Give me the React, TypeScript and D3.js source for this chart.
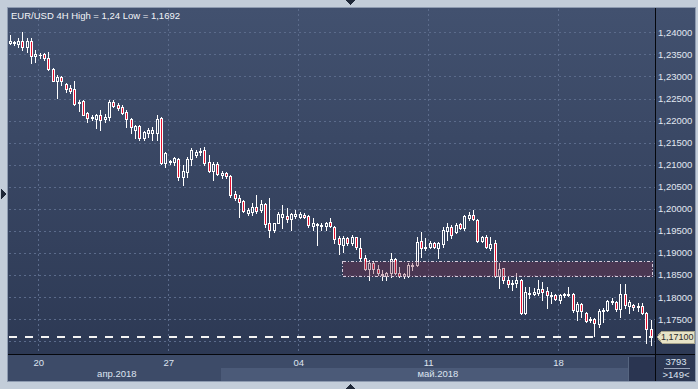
import * as d3 from "d3";
import React from "react";

// EUR/USD 4H candles (oldest first)
const opens = [
  1.2376, 1.2376, 1.2374, 1.238, 1.2367, 1.238, 1.2346, 1.2349, 1.2351, 1.2342,
  1.2317, 1.229, 1.2299, 1.2283, 1.2274, 1.2272, 1.224, 1.2244, 1.2217, 1.2206,
  1.2204, 1.2213, 1.2204, 1.2208, 1.2242, 1.2235, 1.2231, 1.222, 1.2204, 1.2179,
  1.2188, 1.2161, 1.2172, 1.2172, 1.2172, 1.2206, 1.2104, 1.2106, 1.2106, 1.2113,
  1.2072, 1.2084, 1.2113, 1.2122, 1.2129, 1.2133, 1.2106, 1.2086, 1.2102, 1.2077,
  1.2081, 1.2075, 1.2034, 1.2025, 1.2018, 1.1991, 1.1993, 1.2004, 1.1998, 1.2011,
  1.1968, 1.1952, 1.1968, 1.1982, 1.1984, 1.1977, 1.1984, 1.1982, 1.1986, 1.1984,
  1.1961, 1.1964, 1.1961, 1.1961, 1.197, 1.1959, 1.1934, 1.1918, 1.1934, 1.1923,
  1.1936, 1.1911, 1.1889, 1.1864, 1.1878, 1.1864, 1.1853, 1.1848, 1.1855, 1.1887,
  1.1855, 1.1848, 1.1848, 1.1871, 1.1873, 1.1927, 1.1911, 1.1914, 1.1923, 1.1911,
  1.1921, 1.195, 1.1959, 1.1948, 1.1966, 1.1957, 1.1979, 1.1986, 1.1975, 1.1927,
  1.1936, 1.1911, 1.1923, 1.1848, 1.1866, 1.1839, 1.183, 1.1832, 1.1839, 1.1764,
  1.181, 1.1807, 1.181, 1.1819, 1.1814, 1.1803, 1.1805, 1.1794, 1.1805, 1.1805,
  1.1807, 1.1769, 1.1785, 1.1764, 1.1748, 1.1751, 1.1739, 1.1769, 1.1771, 1.1789,
  1.1789, 1.1773, 1.1807, 1.178, 1.1782, 1.1778, 1.178, 1.1764, 1.1728,
];
const highs = [
  1.2394, 1.238, 1.2387, 1.24, 1.2387, 1.2387, 1.236, 1.2353, 1.2353, 1.2355,
  1.2319, 1.2303, 1.2301, 1.2285, 1.2281, 1.229, 1.2247, 1.2247, 1.222, 1.2213,
  1.2215, 1.2224, 1.2215, 1.2247, 1.2247, 1.224, 1.2235, 1.2224, 1.2206, 1.219,
  1.219, 1.2176, 1.2183, 1.2186, 1.2213, 1.2208, 1.2129, 1.2111, 1.2118, 1.2115,
  1.2099, 1.2118, 1.2138, 1.2133, 1.2138, 1.214, 1.2122, 1.2106, 1.2106, 1.2086,
  1.2084, 1.2077, 1.2041, 1.2032, 1.202, 1.2002, 1.2013, 1.2032, 1.202, 1.2013,
  1.2025, 1.1968, 1.1993, 1.2009, 1.2002, 1.1991, 1.1998, 1.1993, 1.1991, 1.1986,
  1.1979, 1.1968, 1.1968, 1.197, 1.1979, 1.1961, 1.1939, 1.1939, 1.1936, 1.1941,
  1.1937, 1.1934, 1.1896, 1.1884, 1.1882, 1.1873, 1.1862, 1.1857, 1.19, 1.1889,
  1.1868, 1.1855, 1.1878, 1.1878, 1.1936, 1.1948, 1.1934, 1.1927, 1.1925, 1.1925,
  1.1959, 1.1968, 1.1964, 1.1968, 1.1968, 1.1986, 1.1993, 1.1998, 1.1977, 1.1939,
  1.1941, 1.1936, 1.193, 1.1878, 1.1867, 1.1846, 1.1839, 1.1855, 1.1841, 1.1823,
  1.1823, 1.1821, 1.1839, 1.1835, 1.1823, 1.1812, 1.1807, 1.1807, 1.181, 1.1823,
  1.181, 1.1789, 1.1787, 1.1767, 1.1755, 1.1753, 1.1773, 1.1776, 1.1794, 1.1798,
  1.1791, 1.183, 1.183, 1.1794, 1.1785, 1.1787, 1.1787, 1.1767, 1.1748,
];
const lows = [
  1.2374, 1.2371, 1.2367, 1.236, 1.2355, 1.233, 1.2333, 1.2342, 1.2337, 1.2315,
  1.2289, 1.2251, 1.2281, 1.2265, 1.2263, 1.2235, 1.2222, 1.2212, 1.2197, 1.2201,
  1.2183, 1.2179, 1.2197, 1.2201, 1.2231, 1.2224, 1.2215, 1.2186, 1.2172, 1.2161,
  1.2156, 1.2156, 1.2163, 1.2156, 1.2156, 1.2102, 1.2095, 1.2102, 1.2099, 1.2066,
  1.2054, 1.2072, 1.2099, 1.2118, 1.2122, 1.2099, 1.2084, 1.2066, 1.2077, 1.207,
  1.207, 1.2027, 1.202, 1.1982, 1.1993, 1.1986, 1.1986, 1.1991, 1.1993, 1.1959,
  1.1936, 1.1948, 1.1967, 1.1957, 1.197, 1.1952, 1.1979, 1.1979, 1.1979, 1.1959,
  1.1952, 1.1918, 1.1952, 1.1952, 1.1959, 1.1923, 1.1898, 1.1902, 1.1918, 1.1918,
  1.1909, 1.1884, 1.1862, 1.1839, 1.1855, 1.185, 1.1839, 1.1839, 1.1846, 1.1853,
  1.1846, 1.1844, 1.1846, 1.1862, 1.1871, 1.1891, 1.1907, 1.1911, 1.1911, 1.1889,
  1.1914, 1.193, 1.1934, 1.1945, 1.1955, 1.1952, 1.1975, 1.1975, 1.1925, 1.1925,
  1.1911, 1.1907, 1.1846, 1.1821, 1.1832, 1.1823, 1.1816, 1.1823, 1.1762, 1.1762,
  1.1798, 1.1805, 1.1805, 1.1794, 1.1776, 1.1787, 1.1794, 1.1787, 1.1801, 1.1803,
  1.1767, 1.1748, 1.1755, 1.1744, 1.1744, 1.1712, 1.1733, 1.1744, 1.1769, 1.1785,
  1.1769, 1.1755, 1.1776, 1.1764, 1.1771, 1.1769, 1.1762, 1.1696, 1.1692,
];
const closes = [
  1.238, 1.2378, 1.238, 1.2367, 1.238, 1.2346, 1.2351, 1.2348, 1.2342, 1.2317,
  1.229, 1.2299, 1.229, 1.2272, 1.2267, 1.2238, 1.2242, 1.2213, 1.2206, 1.2208,
  1.2213, 1.2201, 1.2208, 1.2242, 1.2233, 1.2229, 1.2217, 1.2204, 1.2186, 1.2188,
  1.2161, 1.2174, 1.2179, 1.2179, 1.2204, 1.2104, 1.2127, 1.2109, 1.2115, 1.2072,
  1.2086, 1.2113, 1.2133, 1.2129, 1.2131, 1.2104, 1.2086, 1.2102, 1.2079, 1.2081,
  1.2075, 1.2032, 1.2025, 1.2016, 1.1995, 1.1998, 1.2004, 1.1995, 1.2011, 1.1966,
  1.1952, 1.1968, 1.1989, 1.1989, 1.1977, 1.1989, 1.1989, 1.1989, 1.1982, 1.1964,
  1.1968, 1.1966, 1.1964, 1.1968, 1.1961, 1.1932, 1.1921, 1.1934, 1.1923, 1.1936,
  1.1914, 1.1889, 1.1864, 1.1878, 1.1864, 1.1855, 1.185, 1.1855, 1.1887, 1.1855,
  1.1848, 1.1853, 1.1873, 1.1873, 1.1925, 1.1911, 1.1914, 1.1923, 1.1914, 1.1923,
  1.1952, 1.1959, 1.1941, 1.1964, 1.1957, 1.1984, 1.1986, 1.1977, 1.1927, 1.1936,
  1.1914, 1.1921, 1.1848, 1.1864, 1.1839, 1.183, 1.1832, 1.1839, 1.1764, 1.1812,
  1.1807, 1.1812, 1.1819, 1.1812, 1.1805, 1.1805, 1.1796, 1.1805, 1.1807, 1.1807,
  1.1771, 1.1785, 1.1769, 1.1746, 1.1751, 1.1742, 1.1769, 1.1771, 1.1791, 1.1791,
  1.1773, 1.1807, 1.1782, 1.1789, 1.1778, 1.178, 1.1764, 1.1728, 1.171,
];

const title = "EUR/USD 4H High = 1,24 Low = 1,1692";
const priceTicks = [1.17, 1.175, 1.18, 1.185, 1.19, 1.195, 1.2, 1.205, 1.21, 1.215, 1.22, 1.225, 1.23, 1.235, 1.24];
const dayIndex = [7, 37, 67, 97, 127];
const dayLabels = ["20", "27", "04", "11", "18"];
const monthStart = [0, 49];
const monthLabels = ["апр.2018", "май.2018"];
const lastPrice = 1.171;
const zoneFrom = 76.75;
const zoneTo = 148.3;
const zoneHigh = 1.1883;
const zoneLow = 1.185;
const barsTotal = "3793";
const barsVisible = ">149<";

const W = 698;
const H = 389;
const PL = 9;
const PR = 655;
const PT = 9;
const PB = 354;
const FONT = "'Liberation Sans', Arial, sans-serif";

const fmt = (v: number) => d3.format(".5f")(v).replace(".", ",");

const App = () => {
  const x = d3.scaleLinear().domain([0, 148]).range([9.5, 650.5]);
  const y = d3.scaleLinear().domain([1.175, 1.24]).range([319.3, 32.3]);
  const mayX = x(monthStart[1]) - 1;

  const candles = opens.map((o, i) => {
    const c = closes[i];
    const cx = Math.round(x(i));
    const yh = Math.round(y(highs[i]));
    const yl = Math.round(y(lows[i]));
    const yt = Math.round(y(Math.max(o, c)));
    const yb = Math.round(y(Math.min(o, c)));
    const bear = c < o;
    const parts: React.ReactNode[] = [];
    if (yt > yh) parts.push(<rect key="u" x={cx} y={yh} width={1} height={yt - yh} fill="#fff" />);
    if (yl > yb) parts.push(<rect key="d" x={cx} y={yb + 1} width={1} height={yl - yb} fill="#fff" />);
    if (yb - yt < 2) {
      parts.push(<rect key="b" x={cx - 1} y={yt} width={3} height={yb - yt + 1} fill="#fff" />);
    } else {
      parts.push(
        <rect key="b" x={cx - 0.5} y={yt + 0.5} width={2} height={yb - yt}
          fill={bear ? "#e3102e" : "none"} stroke="#fff" strokeWidth={1} />
      );
    }
    return <g key={i}>{parts}</g>;
  });

  const lastY = Math.round(y(lastPrice));

  return (
    <svg width={W} height={H} style={{ position: "absolute", left: 0, top: 0, display: "block" }}
      fontFamily={FONT} shapeRendering="crispEdges">
      <defs>
        <linearGradient id="bg" x1="0" y1="0" x2="0" y2="1">
          <stop offset="0" stopColor="#42516f" />
          <stop offset="1" stopColor="#2b3752" />
        </linearGradient>
        <clipPath id="plot">
          <rect x={PL} y={PT} width={PR - PL} height={PB - PT} />
        </clipPath>
      </defs>

      {/* outer frame */}
      <rect width={W} height={H} fill="#c3cdd9" />
      <rect x={7} y={7} width={689} height={375} fill="#8e9bb0" />
      <rect x={8} y={8} width={687} height={373} fill="url(#bg)" />

      {/* bottom axis bands */}
      <rect x={8} y={355} width={647} height={26} fill="#3d4b68" />
      <rect x={mayX} y={368} width={628 - mayX} height={13} fill="#4b5a78" />
      <rect x={628} y={357} width={27} height={24} fill="#2a3551" />
      <rect x={628} y={357} width={1} height={24} fill="#566580" />

      {/* grid */}
      <g clipPath="url(#plot)" stroke="#5b6b8b" strokeDasharray="2 3" strokeWidth={1}>
        {priceTicks.map((p) => (
          <line key={p} x1={PL} x2={PR} y1={Math.round(y(p)) + 0.5} y2={Math.round(y(p)) + 0.5} />
        ))}
        {dayIndex.map((d) => (
          <line key={d} x1={Math.round(x(d)) - 1.5} x2={Math.round(x(d)) - 1.5} y1={PT} y2={PB} />
        ))}
      </g>

      {/* candles */}
      <g clipPath="url(#plot)">{candles}</g>

      {/* zone */}
      <rect x={Math.round(x(zoneFrom)) + 0.5} y={Math.round(y(zoneHigh)) + 0.5}
        width={Math.round(x(zoneTo) - x(zoneFrom))} height={Math.round(y(zoneLow) - y(zoneHigh))}
        fill="rgb(120,40,70)" fillOpacity={0.35} stroke="#d6ccdc" strokeDasharray="3 2 1 2" strokeWidth={1} />

      {/* last price line */}
      <line x1={PL} x2={PR - 3} y1={lastY} y2={lastY} stroke="#f4f4f4" strokeWidth={2} strokeDasharray="8 8" />

      {/* separators */}
      <rect x={655} y={8} width={1} height={373} fill="#05070c" />
      <rect x={8} y={354} width={687} height={1} fill="#05070c" />

      {/* price axis */}
      <g fontSize={9.5} fill="#e2e8f2">
        {priceTicks.filter((p) => p >= 1.175).map((p) => (
          <text key={p} x={658} y={y(p)} dy="0.35em">{fmt(p)}</text>
        ))}
      </g>
      <polygon points={`657,${lastY} 662,${lastY - 6} 694,${lastY - 6} 694,${lastY + 6} 662,${lastY + 6}`}
        fill="#e7e3c7" stroke="#a9a58c" strokeWidth={1} />
      <text x={661} y={lastY} dy="0.35em" fontSize={9} fill="#2a2a2a">{fmt(lastPrice)}</text>

      {/* time axis */}
      <g fontSize={9.5} fill="#dde4f0" textAnchor="middle">
        {dayIndex.map((d, i) => (
          <text key={d} x={x(d) - 1} y={366}>{dayLabels[i]}</text>
        ))}
        <text x={(PL + mayX) / 2 + 2} y={377}>{monthLabels[0]}</text>
        <text x={(mayX + PR) / 2} y={377}>{monthLabels[1]}</text>
      </g>

      {/* bar counter */}
      <g fontSize={9.5} fill="#dde4f0" textAnchor="middle">
        <text x={676} y={365}>{barsTotal}</text>
        <rect x={664} y={368} width={26} height={1} fill="#9aa6ba" />
        <text x={676} y={377.5}>{barsVisible}</text>
      </g>

      {/* title */}
      <text x={11} y={18.5} fontSize={9.5} fill="#f2f4f8">{title}</text>

      {/* frame arrows */}
      <polygon points="345,0 355,0 350,5" fill="#1f2838" />
      <polygon points="345,389 355,389 350,384" fill="#1f2838" />
      <polygon points="1,189 6,194 1,199" fill="#1f2838" />
    </svg>
  );
};

export default App;
